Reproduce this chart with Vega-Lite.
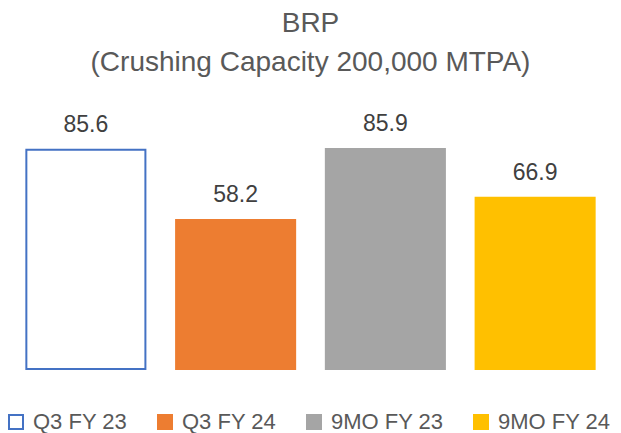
{
  "$schema": "https://vega.github.io/schema/vega-lite/v6.json",
  "autosize": "none",
  "width": 599,
  "height": 256,
  "padding": {"left": 11, "top": 113, "right": 11, "bottom": 64},
  "background": "white",
  "config": {"view": {"stroke": null}},
  "title": {
    "text": ["BRP", "(Crushing Capacity 200,000 MTPA)"],
    "font": "Liberation Sans",
    "fontSize": 28,
    "fontWeight": "normal",
    "color": "#595959",
    "lineHeight": 39,
    "anchor": "middle",
    "frame": "group",
    "offset": 36
  },
  "data": {
    "values": [
      {"period": "Q3 FY 23", "value": 85.6},
      {"period": "Q3 FY 24", "value": 58.2},
      {"period": "9MO FY 23", "value": 85.9},
      {"period": "9MO FY 24", "value": 66.9}
    ]
  },
  "encoding": {
    "x": {
      "field": "period",
      "type": "nominal",
      "sort": null,
      "axis": null,
      "scale": {"paddingInner": 0.205, "paddingOuter": 0.1025}
    },
    "y": {
      "field": "value",
      "type": "quantitative",
      "axis": null,
      "scale": {"domain": [0, 100], "nice": false}
    }
  },
  "layer": [
    {
      "mark": {"type": "bar", "strokeWidth": 2},
      "encoding": {
        "fill": {
          "field": "period",
          "type": "nominal",
          "sort": null,
          "scale": {
            "domain": ["Q3 FY 23", "Q3 FY 24", "9MO FY 23", "9MO FY 24"],
            "range": ["#FFFFFF", "#ED7D31", "#A5A5A5", "#FFC000"]
          },
          "legend": {
            "orient": "none",
            "legendX": -6,
            "legendY": 298,
            "direction": "horizontal",
            "columns": 4,
            "title": null,
            "symbolType": "square",
            "symbolSize": 196,
            "symbolStrokeWidth": 2,
            "labelFont": "Liberation Sans",
            "labelFontSize": 22,
            "labelColor": "#595959",
            "labelOffset": 6,
            "labelLimit": 300,
            "columnPadding": 26
          }
        },
        "stroke": {
          "field": "period",
          "type": "nominal",
          "sort": null,
          "scale": {
            "domain": ["Q3 FY 23", "Q3 FY 24", "9MO FY 23", "9MO FY 24"],
            "range": ["#4472C4", "#ED7D31", "#A5A5A5", "#FFC000"]
          }
        }
      }
    },
    {
      "mark": {
        "type": "text",
        "baseline": "alphabetic",
        "dy": -18,
        "font": "Liberation Sans",
        "fontSize": 23,
        "color": "#404040"
      },
      "encoding": {
        "text": {"field": "value", "type": "quantitative", "format": ".1f"}
      }
    }
  ]
}
